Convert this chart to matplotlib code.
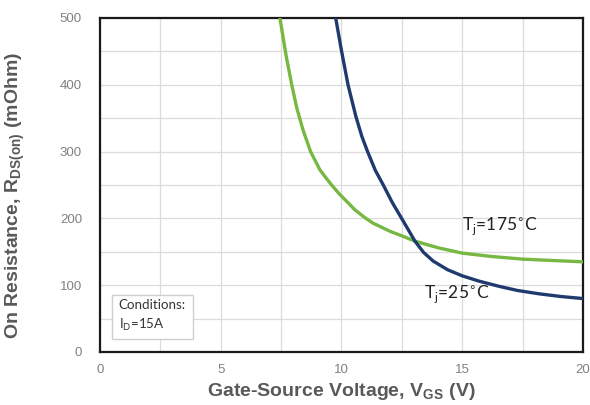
import matplotlib.pyplot as plt
from matplotlib.ticker import MultipleLocator

# Rds(on) vs Vgs, read at Id = 15 A
vgs_175 = [7.45, 7.7, 7.94, 8.15, 8.41, 8.72, 9.1, 9.35, 9.59, 9.9, 10.2, 10.55, 10.97,
           11.3, 11.7, 12.05, 12.42, 13.04, 14.0, 15.0, 16.2, 17.5, 18.7, 20.0]
rds_175 = [500, 445, 400, 365, 332, 300, 273, 261, 250, 237, 226, 213, 201,
           193, 186, 180, 175, 166, 156, 148, 143, 139, 137, 135]

vgs_25 = [9.76, 10.0, 10.27, 10.6, 10.85, 11.08, 11.4, 11.73, 12.1, 12.49, 12.75, 13.04,
          13.4, 13.8, 14.4, 15.0, 15.7, 16.56, 17.3, 18.2, 19.1, 20.0]
rds_25 = [500, 451, 400, 352, 322, 300, 272, 250, 224, 200, 184, 166,
          149, 136, 123, 114, 106, 98, 92, 87, 83, 80]

x_ticks = [0, 5, 10, 15, 20]
y_ticks = [0, 100, 200, 300, 400, 500]

fig = plt.figure(figsize=(5.9, 4.05), dpi=100)
ax = fig.add_axes([0.1695, 0.1309, 0.8186, 0.8247])

ax.plot(vgs_175, rds_175, color='#77b843', lw=2.4, solid_joinstyle='round', zorder=3)
ax.plot(vgs_25, rds_25, color='#1f3a6e', lw=2.4, solid_joinstyle='round', zorder=3)

ax.set_xlim(0, 20)
ax.set_ylim(0, 500)
ax.set_xticks(x_ticks)
ax.set_yticks(y_ticks)
ax.xaxis.set_minor_locator(MultipleLocator(2.5))
ax.yaxis.set_minor_locator(MultipleLocator(50))
ax.grid(which='both', color='#dcdcdc', lw=0.9, zorder=0)
ax.tick_params(which='both', length=0, labelsize=9.5, labelcolor='#808080',
               labelfontfamily='Liberation Sans')
ax.tick_params(axis='y', pad=13)
ax.tick_params(axis='x', pad=9)
for s in ax.spines.values():
    s.set_color('#1a1a1a')
    s.set_linewidth(1.6)

ax.set_xlabel('Gate-Source Voltage, V$_{\\mathregular{GS}}$ (V)', fontsize=14,
              fontweight='bold', color='#595959', family='Liberation Sans', labelpad=3)
ax.set_ylabel('On Resistance, R$_{\\mathregular{DS(on)}}$ (mOhm)', fontsize=14,
              fontweight='bold', color='#595959', family='Liberation Sans')
ax.yaxis.set_label_coords(-0.152, 0.47)

ax.text(15.0, 188, 'T$_\\mathregular{j}$=175$^{\\circ}$C', fontsize=12.5, color='#222222',
        family='Lato', va='center', ha='left', zorder=4)
ax.text(13.4, 86, 'T$_\\mathregular{j}$=25$^{\\circ}$C', fontsize=12.5, color='#222222',
        family='Lato', va='center', ha='left', zorder=4)

ax.text(0.78, 54, 'Conditions:\nI$_\\mathregular{D}$=15A', fontsize=9.6, color='#333333',
        family='Lato', va='center', ha='left', linespacing=1.45, zorder=4,
        bbox=dict(boxstyle='square,pad=0.5', fc='white', ec='#d0d0d0', lw=1))

fig.savefig('out.png', dpi=100)
